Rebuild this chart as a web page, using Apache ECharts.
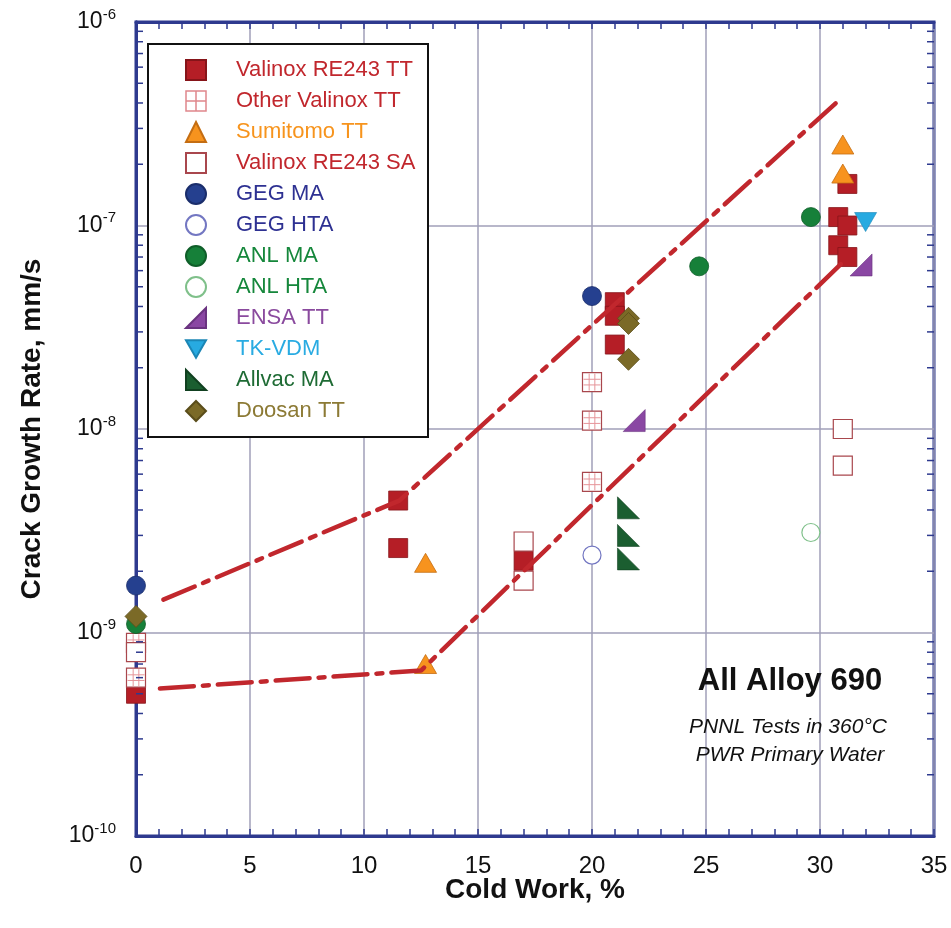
<!DOCTYPE html>
<html>
<head>
<meta charset="utf-8">
<script src="https://cdn.jsdelivr.net/npm/echarts@6/dist/echarts.min.js"></script>
<style>
  html, body { margin: 0; padding: 0; background: #fff; }
  #chart { width: 951px; height: 928px; }
</style>
</head>
<body>
<div id="chart"></div>
<script>
// values: [cold work %, crack growth rate mm/s]
const valinoxRE243TT = [[0, 5.0e-10], [11.5, 4.45e-9], [11.5, 2.6e-9], [17, 2.25e-9],
  [21, 4.2e-8], [21, 3.6e-8], [21, 2.6e-8],
  [30.8, 1.1e-7], [31.2, 1.6e-7], [31.2, 1.0e-7], [30.8, 8.0e-8], [31.2, 7.0e-8]];
const otherValinoxTT = [[0, 8.9e-10], [0, 6.0e-10], [20, 1.7e-8], [20, 1.1e-8], [20, 5.5e-9]];
const sumitomoTT = [[12.7, 2.2e-9], [12.7, 7.0e-10], [31, 2.5e-7], [31, 1.8e-7]];
const valinoxRE243SA = [[0, 8.0e-10], [17, 2.8e-9], [17, 1.8e-9], [31, 1.0e-8], [31, 6.6e-9]];
const gegMA = [[0, 1.7e-9], [20, 4.5e-8]];
const gegHTA = [[20, 2.4e-9]];
const anlMA = [[0, 1.1e-9], [24.7, 6.3e-8], [29.6, 1.1e-7]];
const anlHTA = [[29.6, 3.1e-9]];
const ensaTT = [[21.85, 1.1e-8], [31.8, 6.4e-8]];
const tkVDM = [[32, 1.04e-7]];
const allvacMA = [[21.6, 4.1e-9], [21.6, 3.0e-9], [21.6, 2.3e-9]];
const doosanTT = [[0, 1.2e-9], [21.6, 3.5e-8], [21.6, 3.3e-8], [21.6, 2.2e-8]];

// dashed trend band
const upperBand = [[1.2, 1.45e-9], [11.55, 4.45e-9], [30.7, 4.0e-7]];
const lowerBand = [[1.05, 5.3e-10], [12.5, 6.5e-10], [31.0, 6.6e-8]];

// log minor tick marks (2..9 in each decade)
const decades = [1e-10, 1e-9, 1e-8, 1e-7];
const minorMultipliers = [2, 3, 4, 5, 6, 7, 8, 9];

const FONT = '"Liberation Sans", Arial, sans-serif';
const AXIS_BLUE = '#2e3a8f';
const GRID_GRAY = '#a09fb8';
const TREND_RED = '#c1272d';

const minorTickData = [];
decades.forEach(d => minorMultipliers.forEach(m => minorTickData.push([0, m * d])));

const legendItems = [
  { name: 'Valinox RE243 TT', textStyle: { color: '#c1272d' } },
  { name: 'Other Valinox TT', textStyle: { color: '#c1272d' },
    icon: 'path://M0 0 L30 0 L30 30 L0 30 Z M15 0 L15 30 M0 15 L30 15',
    itemStyle: { color: '#fff', borderColor: '#e0878c', borderWidth: 1.5 } },
  { name: 'Sumitomo TT', textStyle: { color: '#f7941d' } },
  { name: 'Valinox RE243 SA', textStyle: { color: '#c1272d' } },
  { name: 'GEG MA', textStyle: { color: '#2e3192' } },
  { name: 'GEG HTA', textStyle: { color: '#2e3192' } },
  { name: 'ANL MA', textStyle: { color: '#15873b' } },
  { name: 'ANL HTA', textStyle: { color: '#15873b' } },
  { name: 'ENSA TT', textStyle: { color: '#8a4a9e' } },
  { name: 'TK-VDM', textStyle: { color: '#29abe2' } },
  { name: 'Allvac MA', textStyle: { color: '#1e6b34' } },
  { name: 'Doosan TT', textStyle: { color: '#8c7a35' } }
];

function scatter(name, data, symbol, size, style) {
  style.opacity = 1;
  return { name: name, type: 'scatter', data: data, symbol: symbol, symbolSize: size,
    itemStyle: style, z: 2 };
}

function trend(name, data) {
  return { name: name, type: 'line', data: data, symbol: 'none', z: 3, silent: true,
    lineStyle: { color: TREND_RED, width: 4.5, cap: 'round', type: [34, 9, 6, 9] } };
}

let option = {
  animation: false,
  backgroundColor: '#fff',
  textStyle: { fontFamily: FONT },
  grid: { left: 136, right: 17, top: 22, bottom: 92, show: true,
    borderColor: AXIS_BLUE, borderWidth: 3 },
  legend: {
    data: legendItems,
    orient: 'vertical',
    left: 185,
    top: 59,
    padding: 0,
    itemWidth: 20,
    itemHeight: 20,
    itemGap: 9,
    z: 6,
    selectedMode: false,
    textStyle: { fontFamily: FONT, fontSize: 22, lineHeight: 20, padding: [0, 0, 0, 25] }
  },
  graphic: [
    { type: 'rect', z: 5, shape: { x: 148, y: 44, width: 280, height: 393 },
      style: { fill: '#fff', stroke: '#111', lineWidth: 2 } },
    { type: 'text', z: 5, x: 790, y: 681,
      style: { text: 'All Alloy 690', font: 'bold 31px ' + FONT, fill: '#111',
        align: 'center', verticalAlign: 'middle' } },
    { type: 'text', z: 5, x: 788, y: 727,
      style: { text: 'PNNL Tests in 360°C', font: 'italic 21px ' + FONT, fill: '#111',
        align: 'center', verticalAlign: 'middle' } },
    { type: 'text', z: 5, x: 790, y: 755,
      style: { text: 'PWR Primary Water', font: 'italic 21px ' + FONT, fill: '#111',
        align: 'center', verticalAlign: 'middle' } }
  ],
  xAxis: [
    {
      type: 'value', min: 0, max: 35, interval: 5,
      name: 'Cold Work, %', nameLocation: 'middle', nameGap: 40, nameMoveOverlap: false,
      nameTextStyle: { fontFamily: FONT, fontSize: 28, fontWeight: 'bold', color: '#111',
        verticalAlign: 'top' },
      axisLine: { lineStyle: { color: AXIS_BLUE, width: 3 } },
      axisTick: { show: true, inside: true, length: 7, lineStyle: { color: AXIS_BLUE, width: 1.5 } },
      minorTick: { show: true, splitNumber: 5, length: 7, lineStyle: { color: AXIS_BLUE, width: 1.5 } },
      axisLabel: { fontFamily: FONT, fontSize: 24, color: '#111', margin: 18 },
      splitLine: { show: true, lineStyle: { color: GRID_GRAY, width: 1.5 } }
    },
    {
      type: 'value', min: 0, max: 35, interval: 5, position: 'top',
      axisLine: { lineStyle: { color: AXIS_BLUE, width: 3 } },
      axisTick: { show: true, inside: true, length: 7, lineStyle: { color: AXIS_BLUE, width: 1.5 } },
      minorTick: { show: true, splitNumber: 5, length: 7, lineStyle: { color: AXIS_BLUE, width: 1.5 } },
      axisLabel: { show: false },
      splitLine: { show: false }
    }
  ],
  yAxis: [
    {
      type: 'log', logBase: 10, min: 1e-10, max: 1e-6,
      name: 'Crack Growth Rate, mm/s', nameLocation: 'middle', nameGap: 90, nameMoveOverlap: false,
      nameTextStyle: { fontFamily: FONT, fontSize: 28, fontWeight: 'bold', color: '#111' },
      axisLine: { show: true, lineStyle: { color: AXIS_BLUE, width: 3 } },
      axisTick: { show: false },
      axisLabel: {
        margin: 20,
        padding: [0, 0, 6, 0],
        formatter: v => '{b|10}{s|' + Math.round(Math.log10(v)) + '}',
        rich: {
          b: { fontFamily: FONT, fontSize: 23, color: '#111', lineHeight: 24, padding: [6, 0, 0, 0] },
          s: { fontFamily: FONT, fontSize: 15, color: '#111', lineHeight: 16, verticalAlign: 'top' }
        }
      },
      splitLine: { show: true, lineStyle: { color: GRID_GRAY, width: 1.5 } }
    },
    {
      type: 'log', logBase: 10, min: 1e-10, max: 1e-6, position: 'right',
      axisLine: { show: true, lineStyle: { color: AXIS_BLUE, width: 3 } },
      axisTick: { show: false },
      axisLabel: { show: false },
      splitLine: { show: false }
    }
  ],
  series: [
    scatter('Valinox RE243 TT', valinoxRE243TT, 'rect', 19,
      { color: '#b51e26', borderColor: '#861419', borderWidth: 0.8 }),
    scatter('Other Valinox TT', otherValinoxTT, 'rect', 19,
      { color: '#fff', borderColor: '#a9474d', borderWidth: 1.2 }),
    scatter('Other Valinox TT hatch', otherValinoxTT,
      'path://M10 0 L10 30 M20 0 L20 30 M0 10 L30 10 M0 20 L30 20', 17,
      { color: 'rgba(0,0,0,0)', borderColor: '#e6959a', borderWidth: 1 }),
    scatter('Sumitomo TT', sumitomoTT, 'triangle', [22, 19],
      { color: '#f7931e', borderColor: '#c46d12', borderWidth: 0.8 }),
    scatter('Valinox RE243 SA', valinoxRE243SA, 'rect', 19,
      { color: '#fff', borderColor: '#a9474d', borderWidth: 1.2 }),
    scatter('GEG MA', gegMA, 'circle', 19,
      { color: '#25408f', borderColor: '#1a2d6b', borderWidth: 0.8 }),
    scatter('GEG HTA', gegHTA, 'circle', 18,
      { color: '#fff', borderColor: '#7377c2', borderWidth: 1.2 }),
    scatter('ANL MA', anlMA, 'circle', 19,
      { color: '#168039', borderColor: '#0f5e29', borderWidth: 0.8 }),
    scatter('ANL HTA', anlHTA, 'circle', 18,
      { color: '#fff', borderColor: '#7fc08a', borderWidth: 1.2 }),
    scatter('ENSA TT', ensaTT, 'path://M0 30 L30 30 L30 0 Z', 22,
      { color: '#8a47a3', borderColor: '#6a3380', borderWidth: 0.6 }),
    scatter('TK-VDM', tkVDM, 'path://M0 0 L30 0 L15 26 Z', [22, 19],
      { color: '#27aae1', borderColor: '#1b86b5', borderWidth: 0.6 }),
    scatter('Allvac MA', allvacMA, 'path://M0 0 L0 30 L30 30 Z', 22,
      { color: '#1b5e30', borderColor: '#114020', borderWidth: 0.6 }),
    scatter('Doosan TT', doosanTT, 'diamond', 22,
      { color: '#7b6a27', borderColor: '#5a4d1a', borderWidth: 0.8 }),
    trend('upper band', upperBand),
    trend('lower band', lowerBand),
    {
      name: 'minor ticks', type: 'custom', silent: true, z: 4,
      data: minorTickData,
      renderItem: function (params, api) {
        const v = api.value(1);
        const l = api.coord([0, v]);
        const r = api.coord([35, v]);
        const st = { stroke: AXIS_BLUE, lineWidth: 1.5 };
        return { type: 'group', children: [
          { type: 'line', shape: { x1: l[0], y1: l[1], x2: l[0] + 7, y2: l[1] }, style: st },
          { type: 'line', shape: { x1: r[0] - 7, y1: r[1], x2: r[0], y2: r[1] }, style: st }
        ] };
      }
    }
  ]
};

let myChart = echarts.init(document.getElementById('chart'), null, { renderer: 'canvas' });
myChart.setOption(option);
</script>
</body>
</html>
